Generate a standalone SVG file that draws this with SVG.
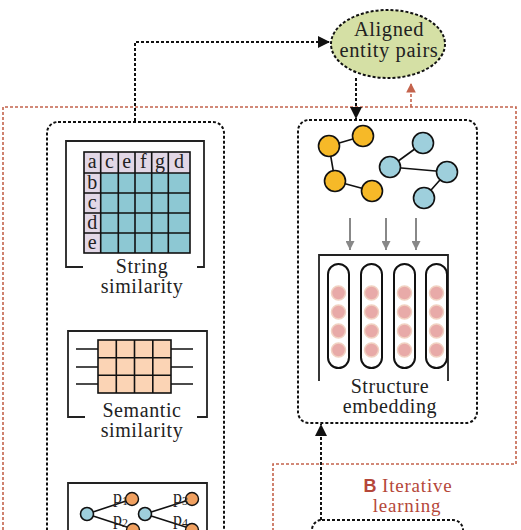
<svg xmlns="http://www.w3.org/2000/svg" width="521" height="530" viewBox="0 0 521 530">
<defs>
<style>
.dot{fill:none;stroke:#111;stroke-width:2;stroke-dasharray:3 2}
.red{fill:none;stroke:#c4634c;stroke-width:1.6;stroke-dasharray:3 2}
.brk{fill:none;stroke:#222;stroke-width:1.8}
.lbl{font-family:"Liberation Serif","Times New Roman",serif;font-size:20px;letter-spacing:0.6px;fill:#222;text-anchor:middle}
.cell{font-family:"Liberation Serif","Times New Roman",serif;font-size:20px;fill:#222;text-anchor:middle}
.edge{stroke:#111;stroke-width:1.6}
.yel{fill:#f6b928;stroke:#111;stroke-width:1.6}
.blu{fill:#9ecfdc;stroke:#111;stroke-width:1.6}
.org{fill:#f0a060;stroke:#111;stroke-width:1.4}
.pill{fill:#fff;stroke:#111;stroke-width:2}
.bead{fill:#e8aaa8;stroke:#f1d2c2;stroke-width:1.5}
.garr{stroke:#888;stroke-width:2}
.pl{font-family:"Liberation Serif","Times New Roman",serif;font-size:18px;fill:#222}
.itl{font-family:"Liberation Serif","Times New Roman",serif;font-size:19px;letter-spacing:0.8px;fill:#b5473a;text-anchor:middle}
</style>
<marker id="ab" viewBox="0 0 10 10" refX="10" refY="5" markerWidth="6" markerHeight="6" orient="auto" markerUnits="strokeWidth"><path d="M0,0L10,5L0,10z" fill="#111"/></marker>
<marker id="ar" viewBox="0 0 10 10" refX="10" refY="5" markerWidth="6" markerHeight="6" orient="auto" markerUnits="strokeWidth"><path d="M0,0L10,5L0,10z" fill="#c4634c"/></marker>
<marker id="ag" viewBox="0 0 10 10" refX="10" refY="5" markerWidth="4.5" markerHeight="4.5" orient="auto" markerUnits="strokeWidth"><path d="M0,0L10,5L0,10z" fill="#888"/></marker>
</defs>
<rect width="521" height="530" fill="#fff"/>

<g id="iterative-region">
<path class="red" d="M3,530V107H516V464H273V530"/>
<text class="itl" x="408" y="492"><tspan style="font-family:'Liberation Sans',Arial,sans-serif;font-weight:bold;font-size:18px;letter-spacing:0">B</tspan> Iterative</text>
<text class="itl" x="407" y="512">learning</text>
</g>

<g id="aligned-pairs">
<ellipse cx="388" cy="44" rx="57" ry="34" fill="#d5e0a5" stroke="#111" stroke-width="2" stroke-dasharray="3 2"/>
<text class="lbl" x="389" y="36" style="font-size:20.5px">Aligned</text>
<text class="lbl" x="389" y="57" style="font-size:20.5px">entity pairs</text>
</g>

<g id="similarity-box">
<rect class="dot" x="47" y="122" width="177" height="430" rx="11"/>
</g>

<g id="string-similarity">
<path class="brk" d="M83,267H66V141H204V267H197"/>
<rect x="84" y="152" width="106" height="101" fill="#e2d7e6"/>
<rect x="100.7" y="173" width="89.3" height="80" fill="#8dc8d3"/>
<g stroke="#111" stroke-width="1.6" fill="none">
<rect x="84" y="152" width="106" height="101"/>
<path d="M100.7,152V253M118.3,152V253M135,152V253M151.7,152V253M168.3,152V253M84,173H190M84,193H190M84,213H190M84,233H190"/>
</g>
<text class="cell" x="92.3" y="168">a</text>
<text class="cell" x="109.5" y="168">c</text>
<text class="cell" x="126.7" y="168">e</text>
<text class="cell" x="143.3" y="168">f</text>
<text class="cell" x="160" y="168">g</text>
<text class="cell" x="179" y="168">d</text>
<text class="cell" x="92.3" y="189">b</text>
<text class="cell" x="92.3" y="209">c</text>
<text class="cell" x="92.3" y="229">d</text>
<text class="cell" x="92.3" y="249">e</text>
<text class="lbl" x="142" y="273">String</text>
<text class="lbl" x="142" y="293">similarity</text>
</g>

<g id="semantic-similarity">
<path class="brk" d="M85,417H68V331H207V417H197"/>
<rect x="98" y="340" width="73" height="53" fill="#fbd4b5"/>
<g stroke="#111" stroke-width="1.6" fill="none">
<rect x="98" y="340" width="73" height="53"/>
<path d="M116.3,340V393M134.5,340V393M152.8,340V393M98,357.7H171M98,375.3H171"/>
<path d="M76,349H98M76,367H98M76,384H98M171,349H193M171,367H193M171,384H193"/>
</g>
<text class="lbl" x="142" y="417">Semantic</text>
<text class="lbl" x="142" y="437">similarity</text>
</g>

<g id="path-similarity">
<path class="brk" d="M68,535V483H207V535"/>
<path class="edge" d="M87,514L132,499M87,514L133,529M145,514L192,499M145,514L192,529"/>
<circle class="blu" cx="87" cy="514" r="6.5"/>
<circle class="blu" cx="145" cy="514" r="6.5"/>
<circle class="org" cx="132" cy="499" r="6.5"/>
<circle class="org" cx="133" cy="530" r="6.5"/>
<circle class="org" cx="192" cy="499" r="6.5"/>
<circle class="org" cx="192" cy="530" r="6.5"/>
<text class="pl" x="113" y="503">p<tspan font-size="12" dy="2">1</tspan></text>
<text class="pl" x="113" y="525">p<tspan font-size="12" dy="2">2</tspan></text>
<text class="pl" x="173" y="503">p<tspan font-size="12" dy="2">3</tspan></text>
<text class="pl" x="173" y="525">p<tspan font-size="12" dy="2">4</tspan></text>
</g>

<g id="structure-embedding">
<rect class="dot" x="298" y="120" width="179" height="303" rx="11"/>
<path class="edge" d="M329,146L363,136M329,146L335,181M335,181L372,191"/>
<path class="edge" d="M390,167L423,143M390,167L447,172M447,172L424,198"/>
<circle class="yel" cx="329" cy="146" r="10.5"/>
<circle class="yel" cx="363" cy="136" r="10.5"/>
<circle class="yel" cx="335" cy="181" r="10.5"/>
<circle class="yel" cx="372" cy="191" r="10.5"/>
<circle class="blu" cx="423" cy="143" r="10.5"/>
<circle class="blu" cx="390" cy="167" r="10.5"/>
<circle class="blu" cx="447" cy="172" r="10.5"/>
<circle class="blu" cx="424" cy="198" r="10.5"/>
<path class="garr" d="M350,218V250" marker-end="url(#ag)"/>
<path class="garr" d="M386,218V250" marker-end="url(#ag)"/>
<path class="garr" d="M416,218V250" marker-end="url(#ag)"/>
<path class="brk" d="M319,381V255H448V381"/>
<rect class="pill" x="328" y="264" width="21" height="104" rx="10.5"/>
<rect class="pill" x="361" y="264" width="21" height="104" rx="10.5"/>
<rect class="pill" x="394" y="264" width="21" height="104" rx="10.5"/>
<rect class="pill" x="426" y="264" width="21" height="104" rx="10.5"/>
<g>
<circle class="bead" cx="338.5" cy="293" r="7"/><circle class="bead" cx="338.5" cy="312" r="7"/><circle class="bead" cx="338.5" cy="331" r="7"/><circle class="bead" cx="338.5" cy="350" r="7"/>
<circle class="bead" cx="371.5" cy="293" r="7"/><circle class="bead" cx="371.5" cy="312" r="7"/><circle class="bead" cx="371.5" cy="331" r="7"/><circle class="bead" cx="371.5" cy="350" r="7"/>
<circle class="bead" cx="404.5" cy="293" r="7"/><circle class="bead" cx="404.5" cy="312" r="7"/><circle class="bead" cx="404.5" cy="331" r="7"/><circle class="bead" cx="404.5" cy="350" r="7"/>
<circle class="bead" cx="436.5" cy="293" r="7"/><circle class="bead" cx="436.5" cy="312" r="7"/><circle class="bead" cx="436.5" cy="331" r="7"/><circle class="bead" cx="436.5" cy="350" r="7"/>
</g>
<text class="lbl" x="390" y="393">Structure</text>
<text class="lbl" x="390" y="413">embedding</text>
</g>

<g id="bottom-box">
<rect class="dot" x="312" y="520" width="151" height="40" rx="10"/>
</g>

<g id="connectors">
<path class="dot" d="M135,121V42H330" marker-end="url(#ab)"/>
<path class="dot" d="M356,78V119" marker-end="url(#ab)"/>
<path class="red" d="M411,107V83" marker-end="url(#ar)"/>
<path class="dot" d="M321,520V424" marker-end="url(#ab)"/>
</g>
</svg>
